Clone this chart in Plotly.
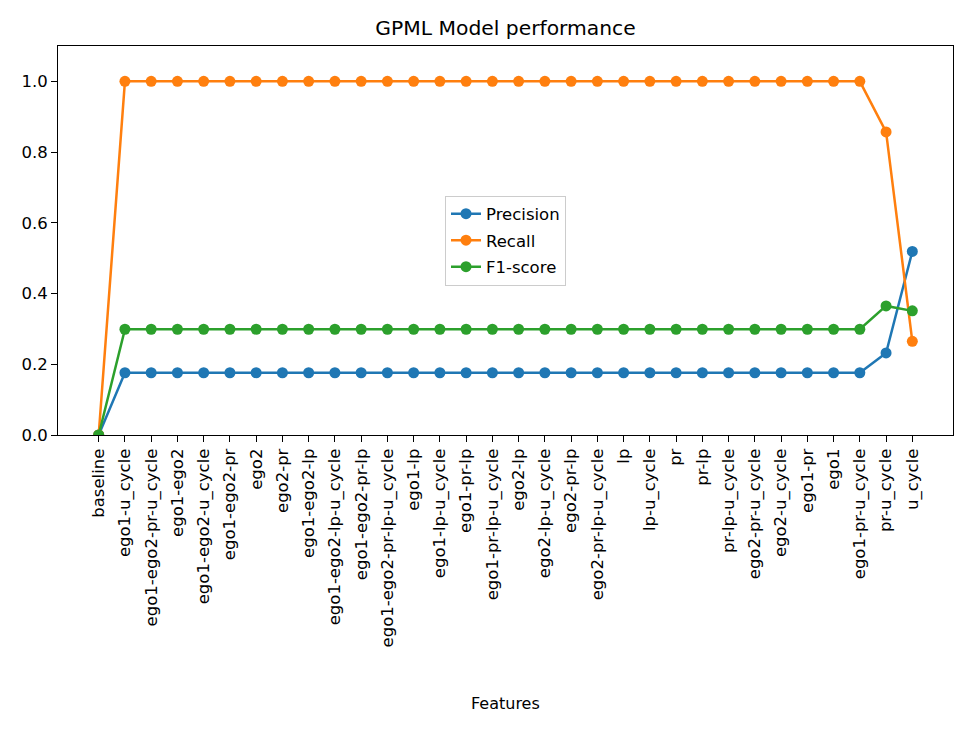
import plotly.graph_objects as go

features = ["baseline", "ego1-u_cycle", "ego1-ego2-pr-u_cycle", "ego1-ego2", "ego1-ego2-u_cycle",
            "ego1-ego2-pr", "ego2", "ego2-pr", "ego1-ego2-lp", "ego1-ego2-lp-u_cycle",
            "ego1-ego2-pr-lp", "ego1-ego2-pr-lp-u_cycle", "ego1-lp", "ego1-lp-u_cycle", "ego1-pr-lp",
            "ego1-pr-lp-u_cycle", "ego2-lp", "ego2-lp-u_cycle", "ego2-pr-lp", "ego2-pr-lp-u_cycle",
            "lp", "lp-u_cycle", "pr", "pr-lp", "pr-lp-u_cycle", "ego2-pr-u_cycle", "ego2-u_cycle",
            "ego1-pr", "ego1", "ego1-pr-u_cycle", "pr-u_cycle", "u_cycle"]

precision = [0.0] + [0.176] * 29 + [0.232, 0.519]
recall = [0.0] + [1.0] * 29 + [0.857, 0.265]
f1 = [0.0] + [0.299] * 29 + [0.365, 0.351]

x = list(range(len(features)))
font = "DejaVu Sans"

fig = go.Figure()
for name, vals, col in [("Precision", precision, "#1f77b4"),
                        ("Recall", recall, "#ff7f0e"),
                        ("F1-score", f1, "#2ca02c")]:
    fig.add_trace(go.Scatter(x=x, y=vals, name=name, mode="lines+markers", legendgroup=name,
                             line=dict(color=col, width=2.5),
                             marker=dict(color=col, size=11)))

fig.update_layout(
    width=977, height=731,
    paper_bgcolor="white", plot_bgcolor="white",
    margin=dict(l=50, r=32, t=38, b=304, autoexpand=False),
    font=dict(family=font, size=16, color="black"),
    title=dict(text="GPML Model performance", x=0.5, xanchor="center", xref="paper",
               y=0.9726, yanchor="middle", font=dict(size=20.3)),
    showlegend=True,
    legend=dict(x=0.5, y=0.5, xanchor="center", yanchor="middle",
                bordercolor="#cccccc", borderwidth=1, bgcolor="rgba(255,255,255,0.8)",
                font=dict(size=16.5), tracegroupgap=2),
    annotations=[dict(text="Features", xref="paper", yref="paper", x=0.5, y=-0.689,
                      xanchor="center", yanchor="middle", showarrow=False,
                      font=dict(size=16))],
)
fig.update_xaxes(
    range=[-1.55, 32.55], tickmode="array", tickvals=x, ticktext=features,
    tickangle=-90, showline=True, linecolor="black", linewidth=1, mirror=True,
    ticks="outside", ticklen=6, tickcolor="black", showgrid=False, zeroline=False,
    tickfont=dict(size=16.5), automargin=False,
)
fig.update_yaxes(
    range=[0, 1.1], tickvals=[0, 0.2, 0.4, 0.6, 0.8, 1.0],
    ticktext=["0.0", "0.2", "0.4", "0.6", "0.8", "1.0"],
    showline=True, linecolor="black", linewidth=1, mirror=True,
    ticks="outside", ticklen=6, tickcolor="black", showgrid=False, zeroline=False,
    tickfont=dict(size=16.5), automargin=False,
)

fig.write_html("out.html")
